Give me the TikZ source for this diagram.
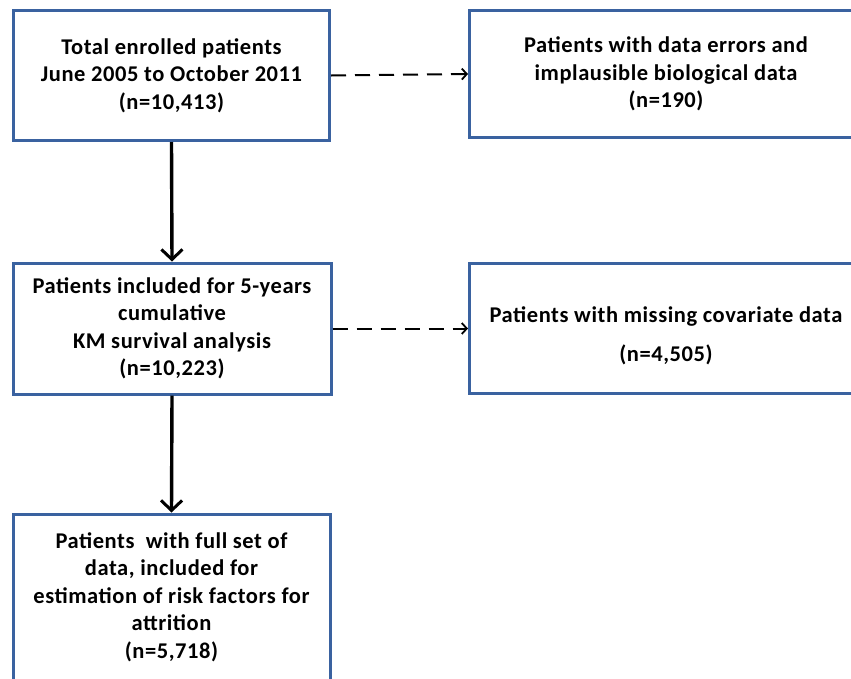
\documentclass[tikz,border=0pt]{standalone}
\usepackage{fontspec}
\setmainfont{Carlito}[LetterSpace=2.5]
\usetikzlibrary{arrows.meta}
\definecolor{boxblue}{HTML}{3A62A0}
\tikzset{
  flowbox/.style={draw=boxblue, line width=3pt, fill=white, align=center,
    inner sep=0pt, font=\fontsize{22.5}{27.5}\selectfont\bfseries, text=black},
  mainarrow/.style={draw=black, line width=3.4pt, -{Straight Barb[length=10pt,width=21pt,line width=3pt]}},
  sidearrow/.style={draw=black, line width=2pt, dash pattern=on 15pt off 9pt,
    -{Straight Barb[length=5pt,width=11pt,line width=1.8pt]}}
}
\begin{document}
\begin{tikzpicture}[x=1pt,y=-1pt]
\useasboundingbox (0,0) rectangle (851,678);
\node[flowbox, minimum width=316pt, minimum height=130pt] (total) at (171.5,75.5)
  {Total enrolled patients\\June 2005 to October 2011\\(n=10,413)};
\node[flowbox, minimum width=393pt, minimum height=127pt] (errors) at (666,74)
  {Patients with data errors and\\implausible biological data\\(n=190)};
\node[flowbox, minimum width=318pt, minimum height=131pt] (included) at (172,328.5)
  {Patients included for 5-years\\cumulative\\KM survival analysis\\(n=10,223)};
\node[flowbox, minimum width=393pt, minimum height=130pt] (missing) at (666,328.5)
  {\rule{0pt}{30pt}Patients with missing covariate data\\[11pt](n=4,505)};
\node[flowbox, minimum width=317pt, minimum height=166pt] (full) at (171.5,597)
  {Patients~ with full set of\\data, included for\\estimation of risk factors for\\attrition\\(n=5,718)};
\draw[mainarrow] (total.south) -- (included.north);
\draw[mainarrow] (included.south) -- (full.north);
\draw[sidearrow] (total.east) -- (errors.west);
\draw[sidearrow] (included.east) -- (missing.west);
\end{tikzpicture}
\end{document}
